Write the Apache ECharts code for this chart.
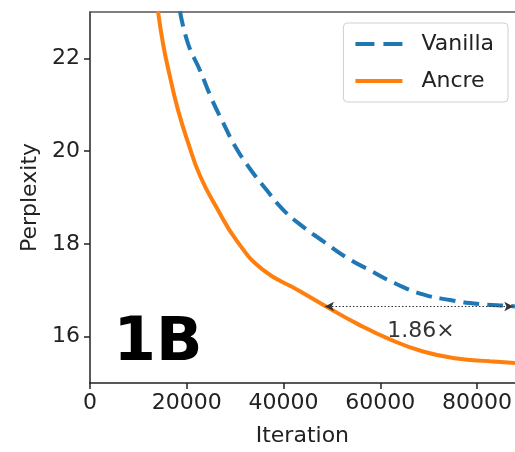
<!DOCTYPE html>
<html>
<head>
<meta charset="utf-8">
<script src="https://cdn.jsdelivr.net/npm/echarts@6/dist/echarts.min.js"></script>
<style>
  html, body { margin: 0; padding: 0; background: #fff; }
  #chart { width: 515px; height: 452px; }
</style>
</head>
<body>
<div id="chart"></div>
<script>
'use strict';

// values
var vanillaIter = [18600, 20260, 22740, 25220, 27490, 29970, 33070, 36590, 39890, 43400, 48160, 53120, 57880, 63460, 68830, 74410, 80610, 86810, 87850];
var vanillaPpl  = [23.02, 22.32, 21.74, 21.11, 20.62, 20.11, 19.62, 19.15, 18.74, 18.42, 18.06, 17.70, 17.43, 17.13, 16.91, 16.79, 16.70, 16.66, 16.65];
var ancreIter = [14060, 15090, 16540, 18190, 20260, 22740, 26250, 30390, 35760, 43400, 48990, 55190, 62010, 68830, 75860, 82680, 87850];
var ancrePpl  = [23.02, 22.32, 21.60, 20.89, 20.19, 19.47, 18.77, 18.06, 17.44, 16.98, 16.64, 16.28, 15.94, 15.68, 15.53, 15.47, 15.43];
var xTicks = [0, 20000, 40000, 60000, 80000];
var yTicks = [16, 18, 20, 22];
var speedupFrom = [48570, 16.65];
var speedupTo = [87500, 16.65];
var speedupText = '1.86×';
var speedupAt = [68420, 16.11];

var pairs = function(xs, ys){
	var out = [];
	for (var i = 0; i < xs.length; i++) out.push([xs[i], ys[i]]);
	return out;
};

var font = 'DejaVu Sans';
var chart = echarts.init(document.getElementById('chart'));

chart.setOption({
	animation: false,
	backgroundColor: '#fff',
	textStyle: { fontFamily: font },
	grid: { left: 90, right: 0, top: 12, bottom: 65, containLabel: false },
	legend: {
		orient: 'vertical',
		right: 7,
		top: 23,
		padding: [10, 14, 10, 10],
		itemWidth: 47,
		itemHeight: 14,
		itemGap: 15,
		itemStyle: { opacity: 0 },
		borderColor: '#d0d0d0',
		borderWidth: 1,
		borderRadius: 4,
		textStyle: { fontSize: 22, color: '#222', fontFamily: font, padding: [0, 0, 0, 14] },
		data: [
			{ name: 'Vanilla', lineStyle: { width: 4, type: [19, 9], color: '#1f77b4' } },
			{ name: 'Ancre', lineStyle: { width: 4, color: '#ff7f0e' } }
		]
	},
	xAxis: [{
		type: 'value',
		min: 0,
		max: 87800,
		name: 'Iteration',
		nameLocation: 'middle',
		nameGap: 42,
		nameTextStyle: { fontSize: 22, color: '#222' },
		splitLine: { show: false },
		axisLine: { lineStyle: { color: '#222', width: 1.5 } },
		axisTick: { length: 6, lineStyle: { color: '#222', width: 1.5 }, customValues: xTicks },
		axisLabel: {
			fontSize: 22, color: '#222', margin: 9, customValues: xTicks,
			formatter: function(v){ return String(v); }
		}
	}, {
		type: 'value',
		position: 'top',
		min: 0,
		max: 87800,
		axisLine: { show: true, lineStyle: { color: '#555', width: 1.5 } },
		axisTick: { show: false },
		axisLabel: { show: false },
		splitLine: { show: false }
	}],
	yAxis: {
		type: 'value',
		min: 15,
		max: 23,
		name: 'Perplexity',
		nameLocation: 'middle',
		nameGap: 49,
		nameTextStyle: { fontSize: 22, color: '#222' },
		splitLine: { show: false },
		axisLine: { show: true, lineStyle: { color: '#222', width: 1.5 } },
		axisTick: { show: true, length: 6, lineStyle: { color: '#222', width: 1.5 }, customValues: yTicks },
		axisLabel: { fontSize: 22, color: '#222', margin: 10, customValues: yTicks }
	},
	series: [{
		name: 'Vanilla',
		type: 'line',
		smooth: 0.5,
		symbol: 'none',
		data: pairs(vanillaIter, vanillaPpl),
		lineStyle: { color: '#1f77b4', width: 4, type: [16, 8] },
		itemStyle: { color: '#1f77b4' },
		z: 3
	}, {
		name: 'Ancre',
		type: 'line',
		smooth: 0.5,
		symbol: 'none',
		data: pairs(ancreIter, ancrePpl),
		lineStyle: { color: '#ff7f0e', width: 4 },
		itemStyle: { color: '#ff7f0e' },
		z: 2,
		markLine: {
			silent: true,
			symbol: ['arrow', 'arrow'],
			symbolSize: [7, 9],
			lineStyle: { color: '#333', type: [1.5, 2], width: 1 },
			label: { show: false },
			data: [[{ coord: speedupFrom }, { coord: speedupTo }]]
		},
		markPoint: {
			silent: true,
			symbolSize: 0,
			label: { show: true, formatter: speedupText, fontSize: 22, color: '#333', fontFamily: font },
			data: [{ coord: speedupAt }]
		}
	}],
	graphic: [{
		type: 'text',
		x: 158,
		y: 344,
		style: {
			text: '1B',
			font: 'bold 61px "DejaVu Sans"',
			fill: '#000',
			textAlign: 'center',
			textVerticalAlign: 'middle'
		},
		z: 10
	}]
});
</script>
</body>
</html>
